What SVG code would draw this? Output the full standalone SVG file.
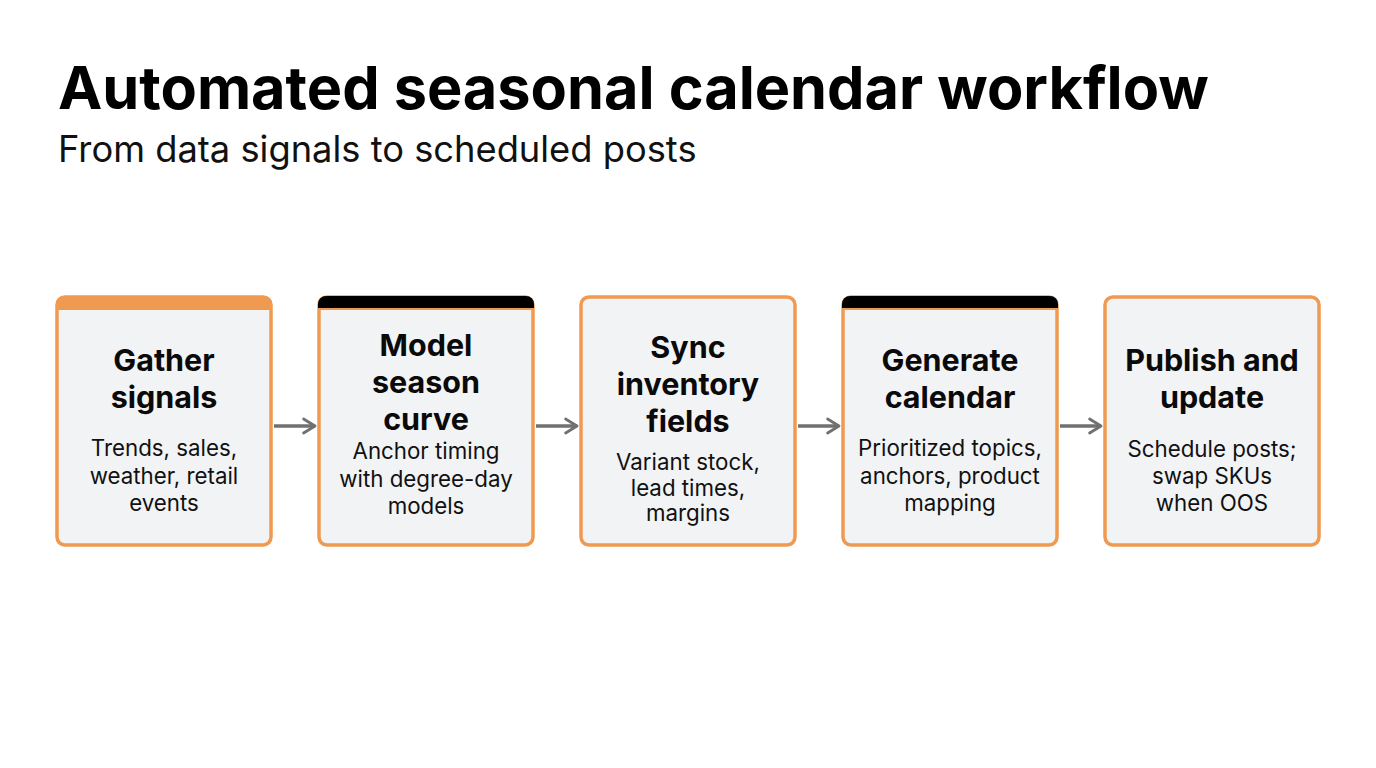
<svg xmlns="http://www.w3.org/2000/svg" width="1376" height="768" viewBox="0 0 1376 768">
<defs>
<style>
.h{font-family:Inter,"Liberation Sans",sans-serif;font-weight:700;fill:#000}
.t{font-family:Inter,"Liberation Sans",sans-serif;font-weight:700;font-size:30.5px;fill:#0a0a0a;text-anchor:middle}
.b{font-family:Inter,"Liberation Sans",sans-serif;font-weight:400;font-size:22.3px;fill:#111;text-anchor:middle}
.box{fill:#f2f3f5;stroke:#ef9a50;stroke-width:3.5}
.conn{stroke:#707070;stroke-width:3.5;fill:none}
</style>
<marker id="ah" viewBox="0 0 10 10" refX="8" refY="5" markerWidth="5" markerHeight="5" orient="auto" markerUnits="strokeWidth">
<path d="M1.5,1 L8,5 L1.5,9" fill="none" stroke="#707070" stroke-width="1.6" stroke-linecap="round" stroke-linejoin="round"/>
</marker>
<clipPath id="c1"><rect x="56" y="296" width="216" height="250" rx="8"/></clipPath>
<clipPath id="c2"><rect x="318" y="296" width="216" height="250" rx="8"/></clipPath>
<clipPath id="c4"><rect x="842" y="296" width="216" height="250" rx="8"/></clipPath>
</defs>
<rect width="1376" height="768" fill="#fff"/>
<text class="h" x="58" y="109" font-size="59.4">Automated seasonal calendar workflow</text>
<text x="58" y="162" font-family="Inter,'Liberation Sans',sans-serif" font-size="36.3" fill="#111">From data signals to scheduled posts</text>

<g id="connectors">
<line class="conn" x1="274" y1="426" x2="315" y2="426" marker-end="url(#ah)"/>
<line class="conn" x1="536" y1="426" x2="577" y2="426" marker-end="url(#ah)"/>
<line class="conn" x1="798" y1="426" x2="839" y2="426" marker-end="url(#ah)"/>
<line class="conn" x1="1060" y1="426" x2="1101" y2="426" marker-end="url(#ah)"/>
</g>

<g id="n1">
<rect class="box" x="57" y="297" width="214" height="248" rx="8"/>
<rect x="56" y="296" width="216" height="14" fill="#ef9a50" clip-path="url(#c1)"/>
<text class="t" x="164" y="371">Gather</text>
<text class="t" x="164" y="408">signals</text>
<text class="b" x="164" y="456">Trends, sales,</text>
<text class="b" x="164" y="484">weather, retail</text>
<text class="b" x="164" y="511">events</text>
</g>

<g id="n2">
<rect class="box" x="319" y="297" width="214" height="248" rx="8"/>
<rect x="318" y="296" width="216" height="14" fill="#000" clip-path="url(#c2)"/>
<rect x="318" y="308" width="216" height="2" fill="#ef9a50"/>
<text class="t" x="426" y="356">Model</text>
<text class="t" x="426" y="393">season</text>
<text class="t" x="426" y="430">curve</text>
<text class="b" x="426" y="459">Anchor timing</text>
<text class="b" x="426" y="487">with degree-day</text>
<text class="b" x="426" y="514">models</text>
</g>

<g id="n3">
<rect class="box" x="581" y="297" width="214" height="248" rx="8"/>
<text class="t" x="688" y="358">Sync</text>
<text class="t" x="688" y="395">inventory</text>
<text class="t" x="688" y="432">fields</text>
<text class="b" x="688" y="470">Variant stock,</text>
<text class="b" x="688" y="496">lead times,</text>
<text class="b" x="688" y="521">margins</text>
</g>

<g id="n4">
<rect class="box" x="843" y="297" width="214" height="248" rx="8"/>
<rect x="842" y="296" width="216" height="14" fill="#000" clip-path="url(#c4)"/>
<rect x="842" y="308" width="216" height="2" fill="#ef9a50"/>
<text class="t" x="950" y="371">Generate</text>
<text class="t" x="950" y="408">calendar</text>
<text class="b" x="950" y="456">Prioritized topics,</text>
<text class="b" x="950" y="484">anchors, product</text>
<text class="b" x="950" y="511">mapping</text>
</g>

<g id="n5">
<rect class="box" x="1105" y="297" width="214" height="248" rx="8"/>
<text class="t" x="1212" y="371">Publish and</text>
<text class="t" x="1212" y="408">update</text>
<text class="b" x="1212" y="457">Schedule posts;</text>
<text class="b" x="1212" y="484">swap SKUs</text>
<text class="b" x="1212" y="511">when OOS</text>
</g>
</svg>
